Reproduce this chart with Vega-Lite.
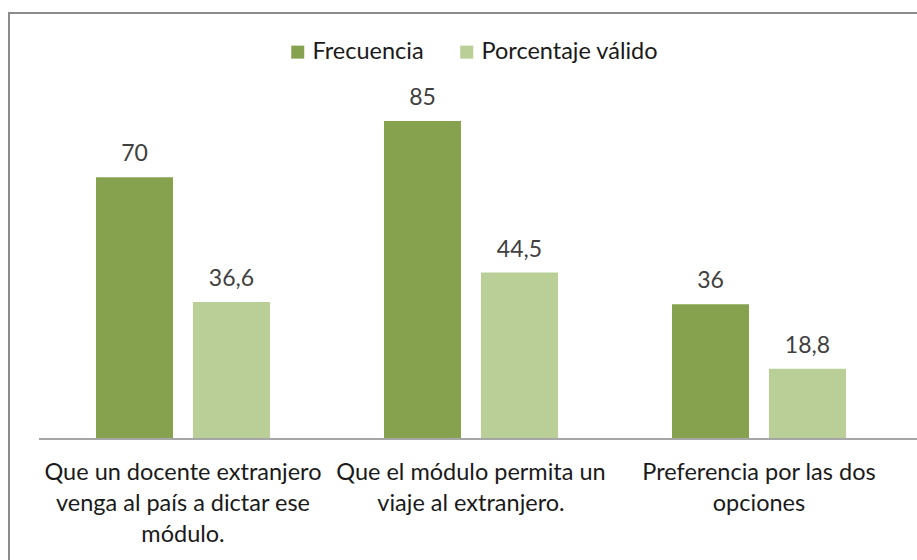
{
  "$schema": "https://vega.github.io/schema/vega-lite/v6.json",
  "autosize": "none",
  "width": 911,
  "height": 550,
  "padding": {"left": 9, "top": 13, "right": 0, "bottom": 0},
  "background": "white",
  "config": {
    "view": {"stroke": "#8c8c8c", "strokeWidth": 2},
    "font": "Lato",
    "locale": {"number": {"decimal": ",", "thousands": ".", "grouping": [3], "currency": ["", ""]}}
  },
  "data": {
    "values": [
      {"categoria": "Que un docente extranjero|venga al país a dictar ese|módulo.", "serie": "Frecuencia", "valor": 70},
      {"categoria": "Que un docente extranjero|venga al país a dictar ese|módulo.", "serie": "Porcentaje válido", "valor": 36.6},
      {"categoria": "Que el módulo permita un|viaje al extranjero.", "serie": "Frecuencia", "valor": 85},
      {"categoria": "Que el módulo permita un|viaje al extranjero.", "serie": "Porcentaje válido", "valor": 44.5},
      {"categoria": "Preferencia por las dos|opciones", "serie": "Frecuencia", "valor": 36},
      {"categoria": "Preferencia por las dos|opciones", "serie": "Porcentaje válido", "valor": 18.8}
    ]
  },
  "layer": [
    {
      "mark": {"type": "bar"},
      "encoding": {
        "x": {
          "field": "categoria", "type": "nominal", "sort": null,
          "scale": {"paddingInner": 0, "paddingOuter": 0.0816, "align": 0.638},
          "axis": {
            "orient": "bottom", "offset": -124, "domain": false, "ticks": false, "tickSize": 0,
            "labelAngle": 0, "labelPadding": 21, "labelFontSize": 23.5, "labelColor": "#1a1a1a",
            "labelExpr": "split(datum.label, '|')", "labelLineHeight": 31, "labelLimit": 0,
            "title": null, "grid": false
          }
        },
        "xOffset": {
          "field": "serie", "type": "nominal",
          "scale": {"paddingInner": 0.206, "paddingOuter": 0.588}
        },
        "y": {
          "field": "valor", "type": "quantitative",
          "scale": {"domain": [-33.14, 113.87], "nice": false, "zero": false},
          "axis": null
        },
        "color": {
          "field": "serie", "type": "nominal",
          "scale": {"domain": ["Frecuencia", "Porcentaje válido"], "range": ["#87a24e", "#b9cf97"]},
          "legend": {
            "orient": "none", "legendX": 277, "legendY": 27, "direction": "horizontal",
            "title": null, "symbolType": "square", "symbolSize": 169, "symbolStrokeWidth": 0,
            "labelFontSize": 23.5, "labelColor": "#1a1a1a", "columnPadding": 31, "labelOffset": 3,
            "labelLimit": 0
          }
        }
      }
    },
    {
      "mark": {"type": "text", "baseline": "bottom", "dy": -11, "fontSize": 23, "color": "#404040"},
      "encoding": {
        "x": {"field": "categoria", "type": "nominal", "sort": null},
        "xOffset": {"field": "serie", "type": "nominal"},
        "y": {"field": "valor", "type": "quantitative"},
        "text": {"field": "valor", "type": "quantitative", "format": ".1~f"}
      }
    },
    {
      "data": {"values": [{"cero": 0}]},
      "mark": {"type": "rule", "color": "#a6a6a6", "strokeWidth": 2},
      "encoding": {
        "x": {"datum": "Que un docente extranjero|venga al país a dictar ese|módulo.", "type": "nominal", "bandPosition": 0},
        "x2": {"value": "width"},
        "y": {"field": "cero", "type": "quantitative"}
      }
    }
  ]
}
